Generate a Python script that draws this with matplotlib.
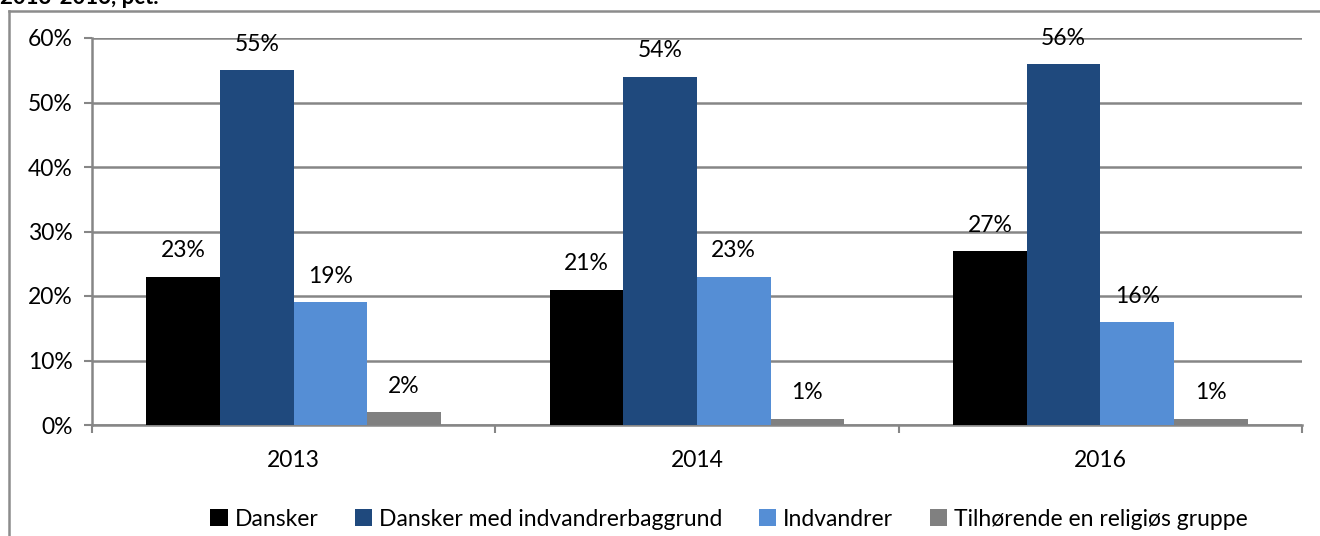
import matplotlib.pyplot as plt
import numpy as np
from matplotlib.lines import Line2D

years = ["2013", "2014", "2016"]
groups = ["Dansker", "Dansker med indvandrerbaggrund", "Indvandrer", "Tilhørende en religiøs gruppe"]
dansker = [23, 21, 27]
dansker_indv = [55, 54, 56]
indvandrer = [19, 23, 16]
religioes = [2, 1, 1]
colors = ["#000000", "#1F497D", "#558ED5", "#808080"]

plt.rcParams['font.family'] = ['Lato', 'DejaVu Sans']
gridc = "#868686"
fs = 16.5

fig = plt.figure(figsize=(13.2, 5.36), dpi=100)
W, H = 1320, 536
ax = fig.add_axes([92 / W, 1 - 425 / H, (1302 - 92) / W, (425 - 38) / H])

x = np.arange(len(years))
bw = 0.1825
series = [dansker, dansker_indv, indvandrer, religioes]
for i, (vals, c) in enumerate(zip(series, colors)):
    pos = x + (i - 1.5) * bw
    ax.bar(pos, vals, width=bw, color=c, label=groups[i], zorder=3)
    for p, v in zip(pos, vals):
        ax.annotate(f"{v}%", (p, v), xytext=(0, 11), textcoords="offset points",
                    ha="center", va="bottom", fontsize=fs, color="black")

ax.set_xlim(-0.5, 2.5)
ax.set_ylim(0, 60)
ax.set_yticks(range(0, 61, 10))
ax.set_yticklabels([f"{t}%" for t in range(0, 61, 10)], fontsize=fs)
ax.yaxis.grid(True, color=gridc, linewidth=1.8, zorder=0)
ax.set_axisbelow(True)

ax.set_xticks([-0.5, 0.5, 1.5, 2.5])
ax.set_xticklabels([])
ax.set_xticks(x, minor=True)
ax.set_xticklabels(years, minor=True, fontsize=fs)
ax.tick_params(axis="x", which="minor", length=0, pad=18)
ax.tick_params(axis="x", which="major", length=6, width=1.5, color=gridc, direction="out")
ax.tick_params(axis="y", length=6, width=1.5, color=gridc, pad=8)

for s in ["top", "right"]:
    ax.spines[s].set_visible(False)
for s in ["left", "bottom"]:
    ax.spines[s].set_color(gridc)
    ax.spines[s].set_linewidth(1.8)

# outer chart frame
fig.add_artist(Line2D([9 / W, 9 / W], [0, 1 - 11 / H], color="#8c8c8c", linewidth=1.8))
fig.add_artist(Line2D([9 / W, 1], [1 - 11 / H, 1 - 11 / H], color="#8c8c8c", linewidth=1.8))

# title, cut off at the top like in the source
fig.text(0.0, 1 - 4 / H, "2013-2016, pct.", fontsize=16, fontweight="bold",
         ha="left", va="baseline")

leg = fig.legend(loc="center", bbox_to_anchor=(729 / W, 1 - 519 / H), ncol=4, frameon=False,
                 fontsize=fs, handlelength=0.75, handleheight=0.75, handletextpad=0.3,
                 columnspacing=1.6)

fig.savefig("out.png", dpi=100)
